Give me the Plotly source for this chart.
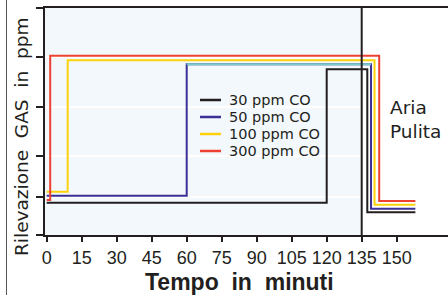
import plotly.graph_objects as go

# ---- data ----
series_names = ["30 ppm CO", "50 ppm CO", "100 ppm CO", "300 ppm CO"]

minutes_30 = [0, 120, 137.4, 158]
level_30 = [14.2, 73.0, 10.0, 10.0]

minutes_50 = [0, 60, 139, 158]
level_50 = [17.3, 75.2, 11.6, 11.6]

minutes_100 = [0, 9, 140.5, 158]
level_100 = [19.1, 77.0, 13.3, 13.3]

minutes_300 = [0, 1.5, 142.5, 158]
level_300 = [15.4, 79.0, 15.0, 15.0]

plateau_50_minutes = [60, 139]
plateau_50_level = [75.2, 75.2]

clean_air_start = 135
x_tick_values = [0, 15, 30, 45, 60, 75, 90, 105, 120, 135, 150]
x_tick_labels = ["0", "15", "30", "45", "60", "75", "90", "105", "120", "135", "150"]
y_tick_values = [0, 16.9, 34.8, 56.4, 78.2, 100]

# ---- styling ----
colors = ["#231f20", "#3b2f96", "#fdd20a", "#ef4130"]
plateau_color = "#76cccc"
fill_color = "#f3f8fd"
axis_color = "#231f20"

W, H = 448, 295
L, R, T, B = 45, 0, 8, 60
pw, ph = W - L - R, H - T - B


def px(xp):
    return (xp - L) / pw


def py(yp):
    return (H - B - yp) / ph


fig = go.Figure()

all_x = [minutes_30, minutes_50, minutes_100, minutes_300]
all_y = [level_30, level_50, level_100, level_300]
for name, xs, ys, c in zip(series_names, all_x, all_y, colors):
    fig.add_trace(go.Scatter(x=xs, y=ys, mode="lines", name=name,
                             line=dict(color=c, width=2, shape="hv"),
                             showlegend=False))
# plateau segment of the 50 ppm curve is drawn in teal in the original
fig.add_trace(go.Scatter(x=plateau_50_minutes, y=plateau_50_level, mode="lines",
                         line=dict(color=plateau_color, width=2),
                         showlegend=False, hoverinfo="skip"))

x_min = -(46.7 - L) / (315 / 135)
x_max = x_min + pw / (315 / 135)

shapes = [
    dict(type="rect", xref="x", yref="y", x0=x_min, x1=clean_air_start, y0=0, y1=100,
         fillcolor=fill_color, line=dict(width=0), layer="below"),
    dict(type="line", xref="x", yref="paper", x0=clean_air_start, x1=clean_air_start,
         y0=0, y1=1, line=dict(color=axis_color, width=2), layer="above"),
    dict(type="line", xref="paper", yref="paper", x0=px(6.5), x1=px(6.5),
         y0=py(H), y1=py(0), line=dict(color="#555555", width=1)),
]

annotations = []
legend_rows = [100, 117, 134, 151]
for name, c, yrow in zip(series_names, colors, legend_rows):
    shapes.append(dict(type="line", xref="paper", yref="paper",
                       x0=px(200), x1=px(221), y0=py(yrow), y1=py(yrow),
                       line=dict(color=c, width=2.5)))
    annotations.append(dict(text=name, xref="paper", yref="paper", x=px(227), y=py(yrow),
                            xanchor="left", yanchor="middle", showarrow=False,
                            font=dict(family="DejaVu Sans", size=14.5, color="#231f20")))

annotations.append(dict(text="Aria<br>Pulita", xref="paper", yref="paper",
                        x=px(388), y=py(119.5), xanchor="left", yanchor="middle",
                        align="left", showarrow=False,
                        font=dict(family="DejaVu Sans", size=18.5, color="#231f20")))
annotations.append(dict(text="Rilevazione  GAS  in  ppm", xref="paper", yref="paper",
                        x=px(21), y=py(137), xanchor="center", yanchor="middle",
                        textangle=-90, showarrow=False,
                        font=dict(family="DejaVu Sans", size=18.5, color="#231f20")))
annotations.append(dict(text="<b>Tempo  in  minuti</b>", xref="paper", yref="paper",
                        x=px(239), y=py(282), xanchor="center", yanchor="middle",
                        showarrow=False,
                        font=dict(family="Liberation Sans, Arial", size=23, color="#231f20")))

fig.update_layout(
    width=W, height=H,
    margin=dict(l=L, r=R, t=T, b=B, pad=0),
    paper_bgcolor="white", plot_bgcolor="white",
    showlegend=False,
    shapes=shapes, annotations=annotations,
    xaxis=dict(range=[x_min, x_max], tickmode="array", tickvals=x_tick_values,
               ticktext=x_tick_labels, tickangle=0,
               showline=True, mirror=True, linecolor=axis_color, linewidth=2,
               ticks="outside", ticklen=5, tickwidth=2, tickcolor=axis_color,
               showgrid=False, zeroline=False,
               tickfont=dict(family="Liberation Sans, Arial", size=18, color="#231f20")),
    yaxis=dict(range=[0, 100], tickmode="array", tickvals=y_tick_values,
               showticklabels=False, showline=True, linecolor=axis_color, linewidth=2,
               ticks="outside", ticklen=7, tickwidth=2, tickcolor=axis_color,
               showgrid=True, gridcolor="white", gridwidth=2, zeroline=False),
)

fig.write_html("out.html", post_script="document.body.style.margin='0';",
               config={"displayModeBar": False})
